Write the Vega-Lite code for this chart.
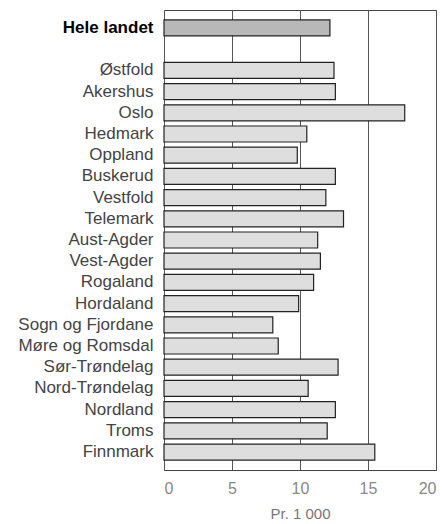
{
  "$schema": "https://vega.github.io/schema/vega-lite/v6.json",
  "autosize": "none",
  "width": 272,
  "height": 460,
  "padding": {"left": 164, "top": 10, "right": 8, "bottom": 54},
  "background": "white",
  "config": {"view": {"stroke": "#444", "strokeWidth": 1}},
  "data": {"values": [
    {"region": "Hele landet", "value": 12.2},
    {"region": "Østfold", "value": 12.5},
    {"region": "Akershus", "value": 12.6},
    {"region": "Oslo", "value": 17.7},
    {"region": "Hedmark", "value": 10.5},
    {"region": "Oppland", "value": 9.8},
    {"region": "Buskerud", "value": 12.6},
    {"region": "Vestfold", "value": 11.9},
    {"region": "Telemark", "value": 13.2},
    {"region": "Aust-Agder", "value": 11.3},
    {"region": "Vest-Agder", "value": 11.5},
    {"region": "Rogaland", "value": 11.0},
    {"region": "Hordaland", "value": 9.9},
    {"region": "Sogn og Fjordane", "value": 8.0},
    {"region": "Møre og Romsdal", "value": 8.4},
    {"region": "Sør-Trøndelag", "value": 12.8},
    {"region": "Nord-Trøndelag", "value": 10.6},
    {"region": "Nordland", "value": 12.6},
    {"region": "Troms", "value": 12.0},
    {"region": "Finnmark", "value": 15.5}
  ]},
  "mark": {"type": "bar", "stroke": "#222", "strokeWidth": 1.2},
  "encoding": {
    "y": {
      "field": "region",
      "type": "nominal",
      "scale": {
        "domain": ["Hele landet", " ", "Østfold", "Akershus", "Oslo", "Hedmark", "Oppland", "Buskerud", "Vestfold", "Telemark", "Aust-Agder", "Vest-Agder", "Rogaland", "Hordaland", "Sogn og Fjordane", "Møre og Romsdal", "Sør-Trøndelag", "Nord-Trøndelag", "Nordland", "Troms", "Finnmark"],
        "paddingInner": 0.245,
        "paddingOuter": 0.47
      },
      "axis": {
        "title": null,
        "domain": false,
        "ticks": false,
        "labelPadding": 11,
        "labelFont": "Liberation Sans",
        "labelFontSize": 17,
        "labelColor": {"condition": {"test": "datum.value === 'Hele landet'", "value": "#000"}, "value": "#444"},
        "labelFontWeight": {"condition": {"test": "datum.value === 'Hele landet'", "value": "bold"}, "value": "normal"}
      }
    },
    "x": {
      "field": "value",
      "type": "quantitative",
      "scale": {"domain": [0, 20], "nice": false},
      "axis": {
        "title": "Pr. 1 000",
        "values": [0, 5, 10, 15, 20],
        "grid": true,
        "gridColor": "#555",
        "gridWidth": 1,
        "domain": true,
        "domainColor": "#444",
        "ticks": false,
        "labelFont": "Liberation Sans",
        "labelFontSize": 16,
        "labelColor": "#888",
        "labelPadding": 10,
        "titleFont": "Liberation Sans",
        "titleFontSize": 15,
        "titleFontWeight": "normal",
        "titleColor": "#777",
        "titlePadding": 10
      }
    },
    "fill": {
      "condition": {"test": "datum.region === 'Hele landet'", "value": "#b8b8b8"},
      "value": "#dedede"
    }
  }
}
